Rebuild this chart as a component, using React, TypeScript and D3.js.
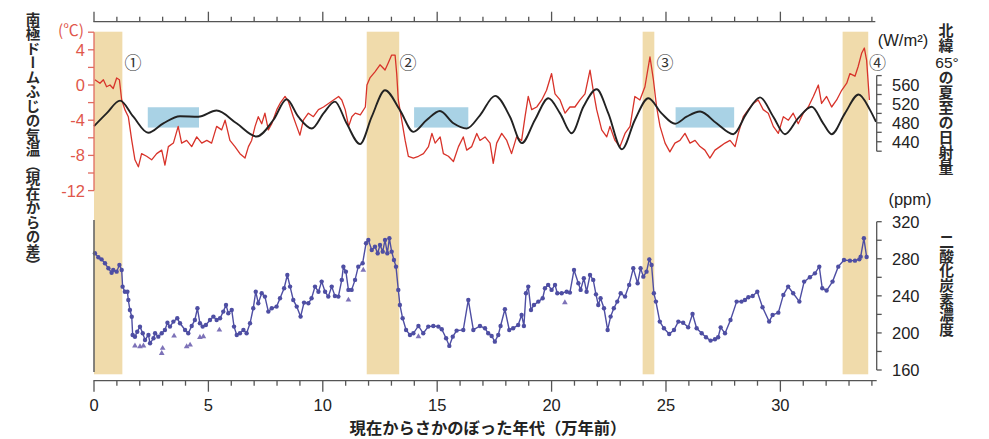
import React from 'react';
import * as d3 from 'd3';

// ages are in 10,000 years before present (万年前)
const warmBands = [[0, 1.24], [11.92, 13.34], [23.98, 24.49], [32.72, 33.84]];
const calmBoxes = [[2.35, 4.59], [13.99, 16.36], [25.42, 27.98]];
const calmRange = [470, 513]; // W/m2
const stageMarks = ['①', '②', '③', '④'];
const stageAges = [1.7, 13.72, 24.96, 34.25];

const xTicks = d3.range(0, 35, 1);
const xLabels = [0, 5, 10, 15, 20, 25, 30];
const tempTicks = d3.range(-12, 7, 2);
const tempLabels = [4, 0, -4, -8, -12];
const insTicks = d3.range(420, 581, 20);
const insLabels = [440, 480, 520, 560];
const co2Ticks = d3.range(160, 321, 20);
const co2Labels = [160, 200, 240, 280, 320];

// Dome Fuji temperature (difference from present, °C)
const tempAge = [0.04, 0.26, 0.41, 0.55, 0.70, 0.84, 0.99, 1.11, 1.21, 1.35,
  1.50, 1.65, 1.79, 1.94, 2.08, 2.30, 2.52, 2.74, 2.96, 3.10,
  3.25, 3.47, 3.68, 3.83, 4.05, 4.27, 4.49, 4.71, 4.93, 5.14,
  5.36, 5.58, 5.73, 5.94, 6.16, 6.38, 6.60, 6.75, 6.89, 7.04,
  7.18, 7.33, 7.47, 7.62, 7.77, 7.99, 8.13, 8.35, 8.50, 8.71,
  8.86, 9.00, 9.15, 9.37, 9.59, 9.81, 10.03, 10.25, 10.47, 10.69,
  10.83, 10.98, 11.13, 11.27, 11.42, 11.64, 11.86, 11.93, 12.06, 12.28,
  12.50, 12.72, 12.86, 13.01, 13.16, 13.23, 13.30, 13.45, 13.60, 13.74,
  13.96, 14.18, 14.40, 14.62, 14.77, 14.91, 15.13, 15.27, 15.49, 15.71,
  15.93, 16.14, 16.29, 16.51, 16.73, 16.87, 17.09, 17.31, 17.45, 17.60,
  17.82, 18.04, 18.25, 18.47, 18.69, 18.84, 18.98, 19.13, 19.35, 19.57,
  19.78, 20.00, 20.15, 20.37, 20.59, 20.80, 21.02, 21.24, 21.46, 21.68,
  21.82, 21.97, 22.19, 22.41, 22.55, 22.77, 22.99, 23.21, 23.43, 23.64,
  23.86, 24.08, 24.30, 24.45, 24.59, 24.74, 24.96, 25.17, 25.39, 25.61,
  25.83, 26.05, 26.27, 26.49, 26.70, 26.92, 27.14, 27.36, 27.58, 27.80,
  28.02, 28.16, 28.38, 28.60, 28.82, 29.03, 29.25, 29.47, 29.69, 29.91,
  30.13, 30.35, 30.56, 30.78, 31.00, 31.22, 31.44, 31.66, 31.80, 32.02,
  32.24, 32.46, 32.68, 32.90, 33.04, 33.26, 33.40, 33.55, 33.67, 33.77,
  33.89];
const tempVal = [0.6, 0.2, 0.6, -0.2, 0, -0.4, 0.8, 0.6, -1.7, -2.8,
  -3.6, -6.3, -8.5, -9.3, -7.8, -8.1, -8.5, -7.8, -7.4, -9.1,
  -7.0, -6.6, -4.7, -6.6, -6.3, -7.0, -5.9, -6.6, -6.3, -6.6,
  -4.7, -5.1, -4.0, -6.3, -7.0, -7.8, -8.3, -7.0, -6.3, -4.7,
  -3.6, -4.4, -3.2, -5.1, -4.4, -2.8, -2.1, -1.3, -1.9, -3.6,
  -4.7, -5.7, -4.0, -3.2, -3.6, -2.8, -2.5, -2.1, -1.7, -1.3,
  -1.7, -2.8, -4.7, -3.6, -3.2, -3.4, -2.5, 0, 0.8, 1.5,
  2.3, 1.7, 2.5, 3.4, 3.4, 1.3, -1.7, -4.0, -6.3, -8.1,
  -8.3, -8.1, -7.8, -7.0, -5.5, -6.6, -5.9, -7.8, -8.1, -8.7,
  -7.0, -5.9, -7.4, -7.0, -5.5, -6.3, -5.9, -6.6, -8.9, -6.6,
  -5.5, -6.3, -7.8, -5.9, -6.3, -3.6, -1.3, -2.8, -2.5, -1.7,
  -0.6, 1.3, -1.0, -1.7, -3.2, -2.5, -2.5, -1.7, -1.0, 1.7,
  -0.6, -2.8, -5.1, -5.9, -4.7, -6.3, -7.0, -5.5, -4.7, -1.3,
  -1.7, -0.2, 3.2, 0.6, -2.5, -4.7, -6.6, -7.6, -6.6, -6.3,
  -5.5, -6.6, -6.3, -7.0, -7.4, -8.3, -7.4, -7.0, -6.6, -6.3,
  -7.0, -5.5, -3.6, -2.8, -2.1, -1.7, -2.8, -3.2, -4.7, -5.5,
  -3.6, -4.0, -3.2, -4.4, -3.2, -2.5, -1.3, 0, -2.1, -1.3,
  -2.5, -1.7, -0.6, 0.2, 1.3, 1.0, 2.1, 3.6, 4.2, 2.8,
  -1.7];

// summer-solstice insolation at 65°N (W/m2)
const insAge = [0.0, 0.55, 1.14, 1.72, 2.37, 3.03, 3.76, 4.56, 5.36, 6.23,
  7.11, 7.84, 8.42, 8.93, 9.52, 10.03, 10.53, 11.04, 11.63, 12.14,
  12.72, 13.37, 13.96, 14.54, 15.12, 15.71, 16.29, 16.87, 17.53, 18.18,
  18.70, 19.27, 19.86, 20.37, 20.88, 21.39, 21.97, 22.48, 23.07, 23.64,
  24.23, 24.81, 25.40, 25.90, 26.49, 27.21, 27.94, 28.52, 29.11, 29.69,
  30.20, 30.78, 31.37, 31.87, 32.24, 32.82, 33.42, 33.91, 34.18];
const insVal = [473, 500, 527, 493, 459, 479, 494, 493, 506, 479,
  451, 486, 530, 493, 468, 500, 525, 479, 435, 493,
  549, 507, 461, 486, 505, 479, 468, 496, 537, 493,
  437, 486, 532, 500, 458, 514, 551, 500, 424, 486,
  532, 500, 478, 493, 504, 479, 456, 500, 534, 493,
  456, 490, 514, 479, 456, 500, 540, 508, 482];

// CO2 concentration (ppm), [age, ppm]
const co2Main = [
  [0.04, 285.9], [0.19, 281.6], [0.33, 279.4], [0.48, 275.1], [0.63, 269.7], [0.77, 265.0], [0.84, 267.9],
  [0.99, 266.1], [1.11, 273.3], [1.21, 267.9], [1.25, 249.9], [1.35, 244.5], [1.46, 244.5], [1.50, 235.5],
  [1.57, 224.7], [1.65, 217.5], [1.69, 197.8], [1.79, 195.9], [1.89, 201.3], [2.01, 206.7], [2.13, 199.6],
  [2.23, 192.4], [2.38, 197.8], [2.45, 188.8], [2.60, 194.2], [2.67, 199.6], [2.81, 196.0], [2.96, 199.6],
  [3.10, 203.2], [3.21, 211.0], [3.32, 206.8], [3.47, 212.2], [3.64, 215.8], [3.76, 210.4], [3.98, 203.2],
  [4.12, 199.6], [4.27, 207.5], [4.41, 214.0], [4.52, 226.6], [4.63, 210.4], [4.75, 206.8], [4.89, 208.6],
  [5.07, 214.0], [5.22, 217.6], [5.36, 214.0], [5.51, 215.8], [5.65, 223.0], [5.77, 230.2], [5.87, 221.2],
  [6.02, 224.8], [6.12, 206.8], [6.24, 197.8], [6.38, 199.6], [6.53, 203.2], [6.67, 199.6], [6.82, 210.4],
  [6.96, 226.6], [7.07, 244.5], [7.18, 232.0], [7.33, 242.8], [7.47, 239.2], [7.62, 223.0], [7.77, 226.6],
  [7.98, 228.4], [8.13, 237.4], [8.31, 248.2], [8.45, 262.5], [8.57, 250.0], [8.71, 235.6], [8.86, 228.4],
  [9.03, 217.6], [9.18, 232.7], [9.37, 232.0], [9.51, 237.4], [9.66, 250.0], [9.81, 244.5], [9.95, 255.4],
  [10.10, 244.5], [10.24, 239.2], [10.39, 250.0], [10.53, 239.9], [10.68, 239.2], [10.83, 257.2], [10.90, 271.5],
  [11.01, 266.1], [11.12, 246.4], [11.26, 246.4], [11.41, 257.2], [11.55, 271.5], [11.74, 275.1], [11.89, 296.7],
  [11.99, 300.3], [12.14, 289.5], [12.28, 293.1], [12.40, 285.9], [12.50, 294.9], [12.62, 287.7], [12.72, 300.3],
  [12.82, 285.9], [12.91, 302.1], [13.01, 287.7], [13.11, 278.7], [13.20, 271.5], [13.30, 246.4], [13.37, 230.2],
  [13.49, 215.8], [13.64, 203.2], [13.81, 197.8], [13.96, 199.6], [14.18, 207.5], [14.39, 199.6], [14.61, 206.8],
  [14.83, 207.5], [15.05, 206.8], [15.20, 203.9], [15.39, 194.2], [15.53, 186.0], [15.68, 196.0], [15.85, 202.5],
  [16.14, 203.2], [16.36, 235.6], [16.58, 203.2], [16.87, 207.5], [17.09, 205.0], [17.23, 199.6], [17.38, 196.7],
  [17.52, 190.6], [17.67, 197.8], [17.77, 207.5], [17.96, 225.5], [18.15, 203.2], [18.32, 205.0], [18.54, 208.6],
  [18.69, 219.4], [18.79, 207.5], [18.88, 242.8], [18.98, 250.0], [19.10, 224.8], [19.23, 230.2], [19.42, 233.8],
  [19.61, 237.4], [19.71, 248.2], [19.85, 251.8], [20.00, 246.4], [20.15, 251.8], [20.25, 242.8], [20.44, 242.8],
  [20.66, 244.5], [20.80, 243.5], [20.98, 267.9], [21.17, 253.6], [21.27, 246.4], [21.41, 259.0], [21.53, 244.5],
  [21.68, 262.5], [21.82, 257.2], [21.94, 241.6], [22.04, 230.2], [22.14, 237.4], [22.29, 226.6], [22.45, 203.2],
  [22.58, 217.6], [22.72, 226.6], [22.87, 233.8], [23.02, 242.8], [23.21, 239.2], [23.39, 251.8], [23.57, 269.7],
  [23.76, 253.6], [23.89, 269.7], [24.01, 260.7], [24.15, 266.1], [24.27, 279.4], [24.37, 273.3], [24.47, 242.8],
  [24.56, 233.8], [24.73, 212.2], [24.91, 205.0], [25.14, 198.9], [25.35, 203.2], [25.54, 212.2], [25.75, 211.0],
  [25.97, 206.0], [26.16, 220.5], [26.34, 205.0], [26.56, 199.6], [26.75, 195.3], [26.95, 191.7], [27.14, 193.1],
  [27.28, 195.3], [27.39, 206.0], [27.58, 199.6], [27.82, 214.0], [28.09, 233.8], [28.30, 233.8], [28.45, 235.6],
  [28.60, 238.5], [28.79, 239.9], [28.99, 244.5], [29.22, 227.7], [29.51, 212.2], [29.66, 219.4], [29.91, 221.9],
  [30.13, 241.0], [30.34, 250.0], [30.56, 242.8], [30.83, 233.8], [31.04, 255.4], [31.29, 260.0], [31.51, 264.3],
  [31.70, 271.5], [31.83, 248.2], [32.02, 245.7], [32.28, 255.4], [32.53, 271.5], [32.78, 278.7], [33.04, 278.0],
  [33.26, 278.0], [33.45, 279.4], [33.51, 282.3], [33.65, 302.1], [33.77, 281.9]];
const co2Extra = [
  [1.79, 186.0], [2.01, 185.2], [2.16, 186.0], [2.96, 178.0], [3.00, 183.5], [3.50, 196.7], [4.05, 185.2],
  [4.20, 187.0], [4.63, 195.3], [4.78, 196.0], [5.48, 203.2], [11.12, 235.6], [11.77, 267.9], [14.18, 196.0],
  [20.58, 232.7]];

const FONT = "'Liberation Sans', Arial, sans-serif";
const JP = "'Noto Sans CJK JP', sans-serif";
const RED_TXT = '#e0574b';
const AXIS = '#555';

export default function App() {
  const x = d3.scaleLinear().domain([0, 34]).range([94, 871.9]);
  const yT = d3.scaleLinear().domain([-12, 6]).range([190.6, 32.2]);
  const yI = d3.scaleLinear().domain([420, 580]).range([151.2, 75.6]);
  const yC = d3.scaleLinear().domain([160, 320]).range([370, 221.7]);

  const tempLine = d3.line<number>()
    .x((_, i) => x(tempAge[i]))
    .y(d => yT(d));
  const insLine = d3.line<number>()
    .x((_, i) => x(insAge[i]))
    .y(d => yI(d))
    .curve(d3.curveMonotoneX);
  const co2Line = d3.line<number[]>()
    .x(d => x(d[0]))
    .y(d => yC(d[1]));
  const tri = d3.symbol().type(d3.symbolTriangle).size(14)();

  const topY = 21.7;
  const botY = 380.7;
  const rightX = 876.7;

  return (
    <svg width={989} height={439} style={{ position: 'absolute', left: 0, top: 0, background: '#fff' }}>
      {/* interglacial bands */}
      {warmBands.map((b, i) => (
        <rect key={'b' + i} x={x(b[0])} y={31.7} width={x(b[1]) - x(b[0])} height={374.3 - 31.7} fill="#f0dbab" />
      ))}
      {calmBoxes.map((b, i) => (
        <rect key={'c' + i} x={x(b[0])} y={yI(calmRange[1])} width={x(b[1]) - x(b[0])}
          height={yI(calmRange[0]) - yI(calmRange[1])} fill="#a9d2e5" />
      ))}

      {/* temperature and insolation */}
      <path d={tempLine(tempVal) || ''} fill="none" stroke="#d8332a" strokeWidth={1.3} strokeLinejoin="round" />
      <path d={insLine(insVal) || ''} fill="none" stroke="#222" strokeWidth={1.9} />

      {/* CO2 */}
      <path d={co2Line(co2Main) || ''} fill="none" stroke="#4e4ea3" strokeWidth={1.4} />
      {co2Main.map((d, i) => (
        <circle key={'p' + i} cx={x(d[0])} cy={yC(d[1])} r={2.2} fill="#4e4ea3" />
      ))}
      {co2Extra.map((d, i) => (
        <path key={'t' + i} d={tri || ''} transform={`translate(${x(d[0])},${yC(d[1])})`} fill="#7d72b8" />
      ))}

      {/* top axis */}
      <line x1={x(0) - 0.6} x2={x(34.15)} y1={topY} y2={topY} stroke={AXIS} strokeWidth={1.3} />
      {xTicks.map(t => (
        <line key={'tt' + t} x1={x(t)} x2={x(t)} y1={topY} y2={topY - (t % 5 === 0 ? 10 : 5)} stroke={AXIS} strokeWidth={1.3} />
      ))}

      {/* bottom axis */}
      <line x1={x(0) - 0.6} x2={rightX} y1={botY} y2={botY} stroke={AXIS} strokeWidth={1.3} />
      {xTicks.map(t => (
        <line key={'bt' + t} x1={x(t)} x2={x(t)} y1={botY} y2={botY + (t % 5 === 0 ? 11 : 5)} stroke={AXIS} strokeWidth={1.3} />
      ))}
      {xLabels.map(t => (
        <text key={'bl' + t} x={x(t)} y={411} textAnchor="middle" fontFamily={FONT} fontSize={16.5} fill="#222">{t}</text>
      ))}
      <text x={488} y={434} textAnchor="middle" fontFamily={JP} fontSize={16.3} fontWeight="bold" fill="#222">
        現在からさかのぼった年代（万年前）
      </text>

      {/* temperature axis */}
      <line x1={94} x2={94} y1={yT(6)} y2={yT(-12)} stroke="#e06a5f" strokeWidth={1.3} />
      {tempTicks.map(t => (
        <line key={'tk' + t} x1={88} x2={94} y1={yT(t)} y2={yT(t)} stroke="#e06a5f" strokeWidth={1.3} />
      ))}
      {tempLabels.map(t => (
        <text key={'tl' + t} x={85} y={yT(t) + 6} textAnchor="end" fontFamily={FONT} fontSize={16.5} fill={RED_TXT}>{t}</text>
      ))}
      <text x={84} y={36} textAnchor="end" fontFamily={JP} fontSize={15.5} fill={RED_TXT}>(℃)</text>

      {/* CO2 panel left frame */}
      <line x1={94} x2={94} y1={220} y2={372} stroke="#666" strokeWidth={1.6} />

      {/* insolation axis */}
      <line x1={rightX} x2={rightX} y1={yI(580)} y2={yI(420)} stroke={AXIS} strokeWidth={1.3} />
      {insTicks.map(t => (
        <line key={'it' + t} x1={rightX} x2={rightX + 5} y1={yI(t)} y2={yI(t)} stroke={AXIS} strokeWidth={1.3} />
      ))}
      {insLabels.map(t => (
        <text key={'il' + t} x={892} y={yI(t) + 6} fontFamily={FONT} fontSize={16.5} fill="#222">{t}</text>
      ))}
      <text x={903} y={46} textAnchor="middle" fontFamily={FONT} fontSize={16.5} fill="#222">(W/m²)</text>

      {/* CO2 axis */}
      <line x1={rightX} x2={rightX} y1={yC(320)} y2={yC(160)} stroke={AXIS} strokeWidth={1.3} />
      {co2Ticks.map(t => (
        <line key={'ct' + t} x1={rightX} x2={rightX + 5} y1={yC(t)} y2={yC(t)} stroke={AXIS} strokeWidth={1.3} />
      ))}
      {co2Labels.map(t => (
        <text key={'cl' + t} x={892} y={yC(t) + 6} fontFamily={FONT} fontSize={16.5} fill="#222">{t}</text>
      ))}
      <text x={910} y={205} textAnchor="middle" fontFamily={FONT} fontSize={16.5} fill="#222">(ppm)</text>

      {/* stage markers */}
      {stageMarks.map((m, i) => (
        <text key={'s' + i} x={x(stageAges[i])} y={yT(2.5) + 6} textAnchor="middle" fontFamily={JP} fontSize={17} fill="#333">{m}</text>
      ))}

      {/* vertical titles */}
      <text x={33} y={12} style={{ writingMode: 'vertical-rl' }} fontFamily={JP} fontSize={14.5} fontWeight="bold" fill="#2a2a2a">
        南極ドームふじの気温（現在からの差）
      </text>
      <text x={946} y={23} style={{ writingMode: 'vertical-rl' }} fontFamily={JP} fontSize={15} fontWeight="bold" fill="#2a2a2a">北緯</text>
      <text x={947} y={68} textAnchor="middle" fontFamily={FONT} fontSize={15.5} fill="#222">65°</text>
      <text x={946} y={70} style={{ writingMode: 'vertical-rl' }} fontFamily={JP} fontSize={15} fontWeight="bold" fill="#2a2a2a">の夏至の日射量</text>
      <text x={946.5} y={234} style={{ writingMode: 'vertical-rl' }} fontFamily={JP} fontSize={14.7} fontWeight="bold" fill="#2a2a2a">二酸化炭素濃度</text>
    </svg>
  );
}
